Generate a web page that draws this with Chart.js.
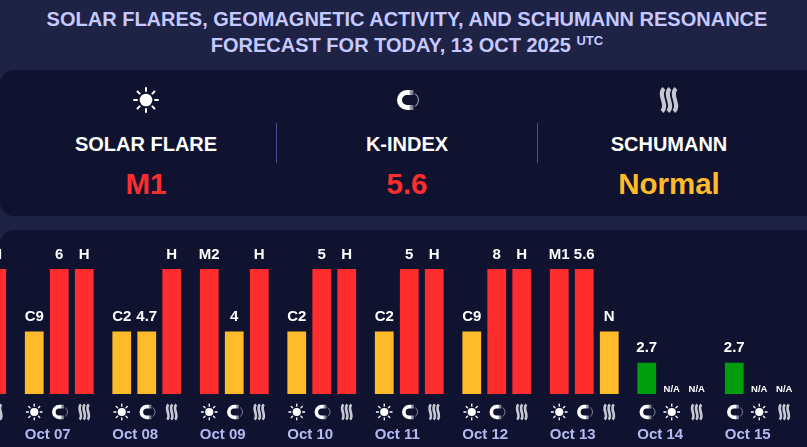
<!DOCTYPE html>
<html>
<head>
<meta charset="utf-8">
<script src="https://cdn.jsdelivr.net/npm/chart.js@4"></script>
<style>
html,body{margin:0;padding:0;width:807px;height:447px;overflow:hidden;background:#1e2245;font-family:"Liberation Sans",Arial,sans-serif;font-weight:bold}
#title{position:absolute;left:0;top:6px;width:814px;text-align:center;color:#c5c9ff;font-size:20px;line-height:26px}
#title sup{font-size:13px;line-height:0;vertical-align:7px}
.panel{position:absolute;left:0;width:830px;background:#0f1330;border-radius:14px}
#top{top:70px;height:146px}
#bottom{top:230px;height:240px}
.col{position:absolute;top:70px;width:262px;text-align:center;color:#fff}
.col canvas{position:absolute;left:116px;top:15px}
.name{position:absolute;left:0;right:0;top:62px;font-size:20px;line-height:24px}
.val{position:absolute;left:0;right:0;top:97px;font-size:29.5px;line-height:34px}
.div{position:absolute;top:123px;width:1px;height:40px;background:#4a4f8f}
#chart{position:absolute;left:-71.75px;top:230px}
</style>
</head>
<body>
<div id="title">SOLAR FLARES, GEOMAGNETIC ACTIVITY, AND SCHUMANN RESONANCE<br>FORECAST FOR TODAY, 13 OCT 2025 <sup>UTC</sup></div>
<div class="panel" id="top"></div>
<div class="panel" id="bottom"></div>
<div class="col" style="left:15px"><canvas id="i0" width="30" height="30"></canvas><div class="name">SOLAR FLARE</div><div class="val" style="color:#ff2d2d">M1</div></div>
<div class="col" style="left:276px"><canvas id="i1" width="30" height="30"></canvas><div class="name">K-INDEX</div><div class="val" style="color:#ff2d2d">5.6</div></div>
<div class="col" style="left:538px"><canvas id="i2" width="30" height="30"></canvas><div class="name">SCHUMANN</div><div class="val" style="color:#ffbb29">Normal</div></div>
<div class="div" style="left:276px"></div>
<div class="div" style="left:537px"></div>
<canvas id="chart" width="875" height="217"></canvas>
<script>
// Days, first one is scrolled off the left edge
const days = ["Oct 06","Oct 07","Oct 08","Oct 09","Oct 10","Oct 11","Oct 12","Oct 13","Oct 14","Oct 15"];

// Bar levels: 4 = high, 2 = medium, 1 = low, 0 = no data
const slot1Levels = [null,2,2,4,2,2,2,4,1,1];
const slot2Levels = [null,4,2,2,4,4,4,4,0,0];
const slot3Levels = [4,4,4,4,4,4,4,2,0,0];

const slot1Labels = ["","C9","C2","M2","C2","C2","C9","M1","2.7","2.7"];
const slot2Labels = ["","6","4.7","4","5","5","8","5.6","N/A","N/A"];
const slot3Labels = ["H","H","H","H","H","H","H","N","N/A","N/A"];

const slot1Icons = ["sun","sun","sun","sun","sun","sun","sun","sun","magnet","magnet"];
const slot2Icons = ["magnet","magnet","magnet","magnet","magnet","magnet","magnet","magnet","sun","sun"];
const slot3Icons = ["waves","waves","waves","waves","waves","waves","waves","waves","waves","waves"];

const levelColors = {4:"#ff2d2d",2:"#ffbb29",1:"#009e0f",0:"#009e0f"};
const smallIconScale = {sun:0.65, magnet:0.72, waves:0.66};

// Icons are drawn around (x,y), s=1 is the big size in the header
function drawIcon(ctx, kind, x, y, s) {
  ctx.save();
  ctx.translate(x, y);
  ctx.scale(s, s);
  ctx.lineCap = "round";
  if (kind === "sun") {
    ctx.fillStyle = "#fff";
    ctx.beginPath();
    ctx.arc(0, 0, 6.3, 0, Math.PI*2);
    ctx.fill();
    ctx.strokeStyle = "#fff";
    ctx.lineWidth = 2;
    for (let a = 0; a < 8; a++) {
      const t = a*Math.PI/4;
      ctx.beginPath();
      ctx.moveTo(Math.cos(t)*9, Math.sin(t)*9);
      ctx.lineTo(Math.cos(t)*12, Math.sin(t)*12);
      ctx.stroke();
    }
  } else if (kind === "magnet") {
    const g = ctx.createLinearGradient(-2, 0, 8, 0);
    g.addColorStop(0, "#fff");
    g.addColorStop(0.4, "#fff");
    g.addColorStop(0.55, "#9a9aaa");
    g.addColorStop(1, "#5c5f78");
    ctx.strokeStyle = g;
    ctx.lineWidth = 5;
    ctx.lineCap = "butt";
    ctx.beginPath();
    ctx.arc(0, 0, 7.5, Math.PI*0.5, Math.PI*1.5, false);
    ctx.lineTo(6.5, -7.5);
    ctx.moveTo(6.5, 7.5);
    ctx.lineTo(0, 7.5);
    ctx.stroke();
    ctx.strokeStyle = "#8f90a8";
    ctx.lineWidth = 1.2;
    ctx.beginPath();
    ctx.arc(4, 0, 7.5, -Math.PI*0.32, Math.PI*0.32);
    ctx.stroke();
  } else {
    ctx.strokeStyle = "#c8c8d4";
    ctx.lineWidth = 4;
    ctx.lineCap = "butt";
    for (const dx of [-6, 0, 6]) {
      ctx.beginPath();
      ctx.moveTo(dx+1, -11.5);
      ctx.bezierCurveTo(dx-6, -5, dx+6, 5, dx-1, 11.5);
      ctx.stroke();
    }
  }
  ctx.restore();
}

// Text over the bars and icon under each bar
const barExtras = {
  id: "barExtras",
  afterDatasetsDraw(chart) {
    const ctx = chart.ctx;
    const labels = [slot1Labels, slot2Labels, slot3Labels];
    const icons = [slot1Icons, slot2Icons, slot3Icons];
    const base = chart.scales.y.getPixelForValue(0);
    chart.data.datasets.forEach((ds, i) => {
      chart.getDatasetMeta(i).data.forEach((bar, j) => {
        const text = labels[i][j];
        const top = ds.data[j] === null ? base : bar.y;
        ctx.save();
        ctx.fillStyle = "#fff";
        ctx.textAlign = "center";
        ctx.textBaseline = "alphabetic";
        if (text === "N/A") {
          ctx.font = "bold 9.5px 'Liberation Sans'";
          ctx.fillText(text, bar.x, top - 2.5);
        } else if (text) {
          ctx.font = "bold 15px 'Liberation Sans'";
          ctx.fillText(text, bar.x, top - 10.5);
        }
        ctx.restore();
        const kind = icons[i][j];
        drawIcon(ctx, kind, bar.x, base + 18, smallIconScale[kind]);
      });
    });
  }
};

new Chart(document.getElementById("chart"), {
  type: "bar",
  plugins: [barExtras],
  data: {
    labels: days,
    datasets: [slot1Levels, slot2Levels, slot3Levels].map((levels, i) => ({
      label: "Slot " + (i+1),
      data: levels,
      backgroundColor: levels.map(v => levelColors[v]),
      categoryPercentage: 6/7,
      barPercentage: 0.75
    }))
  },
  options: {
    responsive: false,
    animation: false,
    layout: { padding: { top: 39, left: 0, right: 0, bottom: 0 } },
    plugins: { legend: { display: false }, tooltip: { enabled: false } },
    scales: {
      y: { display: false, min: 0, max: 4 },
      x: {
        afterFit: s => { s.height = 53; s.paddingLeft = 0; s.paddingRight = 0; },
        grid: { display: false, drawTicks: false },
        border: { display: false },
        ticks: {
          autoSkip: false, maxRotation: 0, align: "start", labelOffset: -34.4, padding: 32,
          color: "#b4b9f2", font: { family: "'Liberation Sans'", size: 15, weight: "bold" }
        }
      }
    }
  }
});

["sun","magnet","waves"].forEach((k, i) => {
  drawIcon(document.getElementById("i"+i).getContext("2d"), k, 15, 15, 1);
});
</script>
</body>
</html>
